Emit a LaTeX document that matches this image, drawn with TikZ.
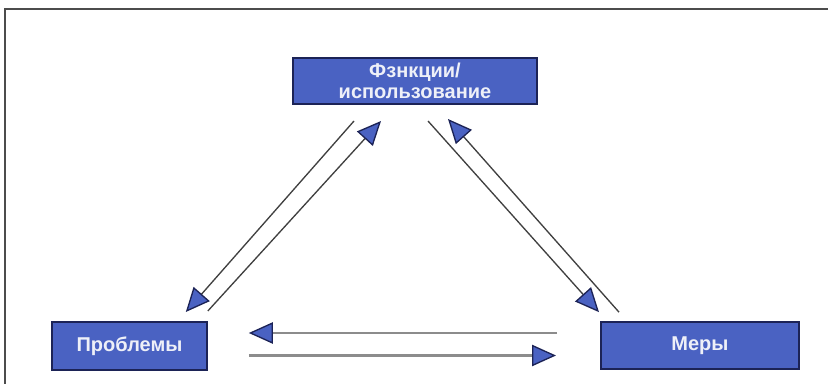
\documentclass[tikz,border=0pt]{standalone}
\usepackage{fontspec}
\setmainfont{Liberation Sans}
\usepackage{xcolor}
\usepackage{tikz}
\usetikzlibrary{arrows.meta}
\definecolor{boxblue}{HTML}{4A62C2}
\definecolor{boxedge}{HTML}{1C2356}
\definecolor{boxtext}{HTML}{EEF0F8}
\tikzset{flow-box/.style={draw=boxedge, fill=boxblue, line width=1.5pt, inner sep=0, text=boxtext, font=\fontsize{15}{16}\selectfont\bfseries, align=center}}
\tikzset{flow-line/.style={line width=1pt, draw=black!75, -{Triangle[length=18pt, width=16pt, color=boxedge, fill=boxblue, line width=1pt]}}}
\tikzset{flow-line-h/.style={flow-line, draw=black!45, line width=1.6pt}}
\tikzset{frame-line/.style={line width=1.2pt, draw=black!70}}

\begin{document}
\begin{tikzpicture}[x=0.75pt, y=-0.75pt]
            \useasboundingbox (0,0) rectangle (828,384);
            \draw[frame-line] (5,384) -- (5,9) -- (828,9);

            \node[flow-box, minimum width=183pt, minimum height=34.5pt] (node1) at (415,81) {Фзнкции/\\использование};
            \node[flow-box, minimum width=116pt, minimum height=36pt] (node2) at (129.5,346) {Проблемы};
            \node[flow-box, minimum width=148.5pt, minimum height=35pt] (node3) at (700,345.5) {Меры};

            \draw[flow-line] ([shift={(62,16)}]node1.south west) -- ([shift={(-22,-9)}]node2.north east);
            \draw[flow-line] ([shift={(0,-10)}]node2.north east) -- ([shift={(89,16)}]node1.south west);

            \draw[flow-line] ([shift={(-110,16)}]node1.south east) -- ([shift={(-1,-9)}]node3.north west);
            \draw[flow-line] ([shift={(19,-9)}]node3.north west) -- ([shift={(-90,14)}]node1.south east);

            \draw[flow-line-h] ([shift={(-43,-12.5)}]node3.west) -- ([shift={(41,-13)}]node2.east);
            \draw[flow-line-h] ([shift={(41,9.5)}]node2.east) -- ([shift={(-44,10)}]node3.west);

        \end{tikzpicture}
\end{document}
